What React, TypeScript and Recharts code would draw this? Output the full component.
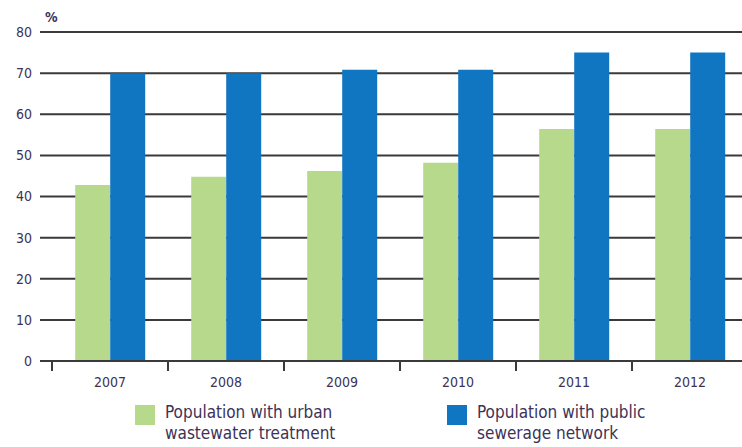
import React from "react";
import { BarChart, Bar, XAxis, YAxis, CartesianGrid, Label } from "recharts";

const years = ["2007", "2008", "2009", "2010", "2011", "2012"];
const urbanTreatment = [42.8, 44.8, 46.2, 48.2, 56.4, 56.4];
const publicSewerage = [70, 70, 70.8, 70.8, 75, 75];
const yTicks = [0, 10, 20, 30, 40, 50, 60, 70, 80];

const seriesNames = [
  ["Population with urban", "wastewater treatment"],
  ["Population with public", "sewerage network"],
];
const seriesColors = ["#b6d98b", "#1176c1"];

const data = years.map((year, i) => ({
  year,
  urban: urbanTreatment[i],
  sewer: publicSewerage[i],
}));

const FONT = "'Liberation Sans Narrow', 'DejaVu Sans Condensed', 'Liberation Sans', sans-serif";
const TEXT = "#3d3258";
const GRID = "#3a3a3a";

const CHART_W = 748;
const AXIS_W = 40;
const PAD_LEFT = 12;
const BAND = (CHART_W - AXIS_W - PAD_LEFT) / years.length;

const YearTick = (props: any) => {
  const { x, y, payload } = props;
  return (
    <g>
      <line x1={x - BAND / 2} x2={x - BAND / 2} y1={y} y2={y + 10} stroke={GRID} strokeWidth={2} />
      <text x={x} y={y + 26} textAnchor="middle" fontSize={14} fill={TEXT} fontFamily={FONT}>
        {payload.value}
      </text>
    </g>
  );
};

const App: React.FC = () => {
  return (
    <div
      style={{
        position: "absolute",
        left: 0,
        top: 0,
        width: 742,
        height: 447,
        overflow: "hidden",
        background: "#fff",
        fontFamily: FONT,
      }}
    >
      <BarChart
        width={CHART_W}
        height={447}
        data={data}
        margin={{ top: 32, right: 0, bottom: 56, left: 0 }}
        barCategoryGap="20%"
        barGap={0}
      >
        <CartesianGrid vertical={false} stroke={GRID} strokeWidth={2} />
        <XAxis
          dataKey="year"
          height={30}
          padding={{ left: PAD_LEFT, right: 0 }}
          tickSize={0}
          tickMargin={0}
          tickLine={false}
          axisLine={{ stroke: GRID, strokeWidth: 2 }}
          tick={<YearTick />}
          interval={0}
        />
        <YAxis
          width={AXIS_W}
          domain={[0, 80]}
          ticks={yTicks}
          axisLine={false}
          tickLine={false}
          tick={{ fontSize: 14, fill: TEXT, fontFamily: FONT }}
        >
          <Label
            content={(p: any) => (
              <text
                x={p.viewBox.x + p.viewBox.width + 5}
                y={p.viewBox.y - 10}
                fontSize={14}
                fontWeight="bold"
                fill={TEXT}
                fontFamily={FONT}
              >
                %
              </text>
            )}
          />
        </YAxis>
        <Bar dataKey="urban" fill={seriesColors[0]} isAnimationActive={false} />
        <Bar dataKey="sewer" fill={seriesColors[1]} isAnimationActive={false} />
      </BarChart>

      {seriesNames.map((lines, i) => (
        <div
          key={i}
          style={{
            position: "absolute",
            left: i === 0 ? 135 : 447,
            top: 402,
            display: "flex",
            alignItems: "flex-start",
            gap: 10,
          }}
        >
          <span
            style={{
              width: 20,
              height: 20,
              marginTop: 3,
              background: seriesColors[i],
              display: "inline-block",
              flexShrink: 0,
            }}
          />
          <div style={{ fontSize: 17, lineHeight: "21px", color: TEXT }}>
            {lines.map((l) => (
              <div key={l}>{l}</div>
            ))}
          </div>
        </div>
      ))}
    </div>
  );
};

export default App;
